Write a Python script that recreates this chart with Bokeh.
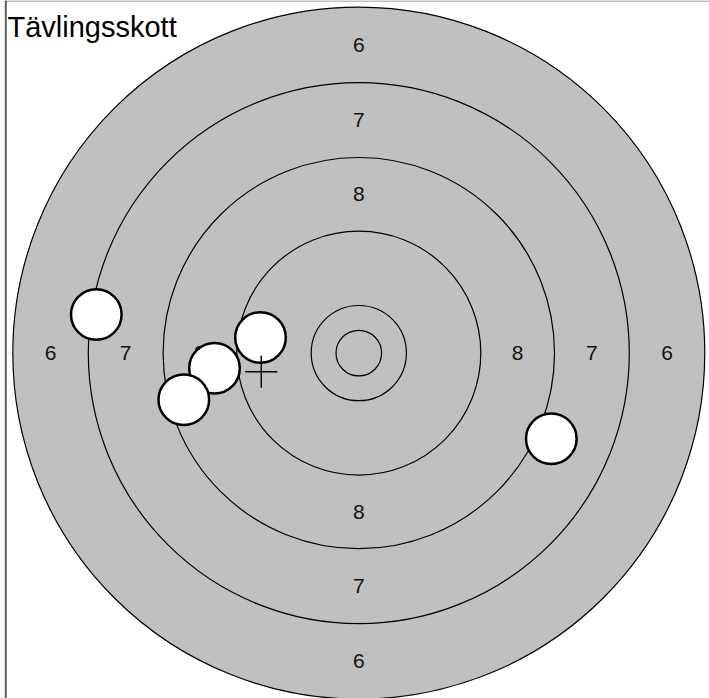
from bokeh.plotting import figure
from bokeh.models import Range1d, Span, Label, ColumnDataSource
from bokeh.core.properties import value
from bokeh.embed import file_html
from bokeh.resources import INLINE

# --- data (target units, centre of target at 0,0, y up) ---
ring_radii = [346.0, 270.5, 195.7, 122.0, 47.6, 22.8]   # outer -> inner
ring_values = ["6", "7", "8"]                          # labelled bands (outer -> inner)
shot_x = [-262.5, -98.3, -144.3, -175.0, 192.5]
shot_y = [38.6, 15.6, -15.2, -46.6, -85.7]
shot_radius = 25.3
title_text = "Tävlingsskott"

W, H = 705, 698
cx, cy = 354.3, 352.6   # target centre in figure pixels

p = figure(width=W, height=H, output_backend="svg", toolbar_location=None,
           x_range=Range1d(-cx, W - cx), y_range=Range1d(cy - H, cy),
           x_axis_type=None, y_axis_type=None, min_border=0,
           styles={"margin-left": "4px"})
p.xgrid.visible = False
p.ygrid.visible = False
p.outline_line_color = None
p.background_fill_color = "white"
p.border_fill_color = "white"

# rings
rs = ColumnDataSource(dict(x=[0] * len(ring_radii), y=[0] * len(ring_radii), r=ring_radii))
p.circle(x="x", y="y", radius="r", source=rs, fill_color="#c0c0c0",
         line_color="black", line_width=1.2)

# ring labels at band midpoints in four directions
lx, ly, lt = [], [], []
for i, v in enumerate(ring_values):
    m = (ring_radii[i] + ring_radii[i + 1]) / 2
    for dx, dy in [(-1, 0), (1, 0), (0, 1), (0, -1)]:
        lx.append(dx * m)
        ly.append(dy * m)
        lt.append(v)
p.text(x=lx, y=ly, text=lt, text_align="center", text_baseline="middle",
       text_font=value("Liberation Sans"), text_font_size="21px", text_color="#111111")

# shots
p.circle(x=shot_x, y=shot_y, radius=shot_radius, fill_color="white",
         line_color="black", line_width=2.5)

# mean point of impact cross
mx = sum(shot_x) / len(shot_x)
my = sum(shot_y) / len(shot_y)
arm = 16
p.segment(x0=[mx - arm, mx], y0=[my, my - arm], x1=[mx + arm, mx], y1=[my, my + arm],
          line_color="black", line_width=1.5)

# frame border (top / left bevel)
p.add_layout(Span(location=cy - 0.5, dimension="width", line_color="#808080", line_width=1))
p.add_layout(Span(location=-cx + 0.5, dimension="height", line_color="#808080", line_width=1))
p.add_layout(Span(location=-cx + 1.5, dimension="height", line_color="black", line_width=1))

# title
p.add_layout(Label(x=3, y=H - 26, x_units="screen", y_units="screen", text=title_text,
                   text_font="Liberation Sans", text_font_size="29px",
                   text_color="black", text_baseline="alphabetic"))

open("out.html", "w").write(file_html(p, INLINE))
